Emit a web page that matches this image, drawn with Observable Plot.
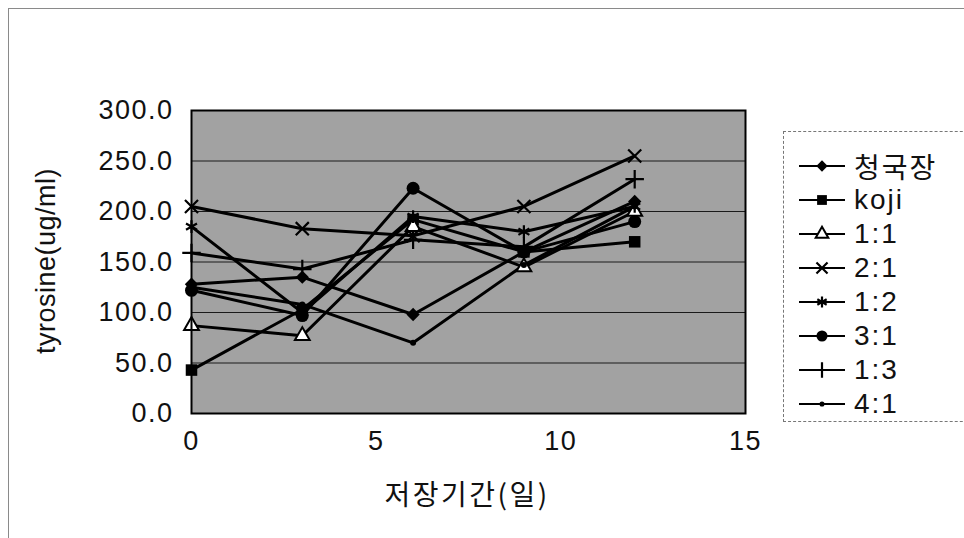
<!DOCTYPE html>
<html>
<head>
<meta charset="utf-8">
<script src="https://cdn.jsdelivr.net/npm/d3@7"></script>
<script src="https://cdn.jsdelivr.net/npm/@observablehq/plot@0.6"></script>
<style>
  html, body { margin: 0; padding: 0; background: #fff; }
  #wrap { position: relative; width: 964px; height: 538px; overflow: hidden;
          font-family: "Liberation Sans", Arial, "Noto Sans CJK KR", sans-serif; }
  #outer { position: absolute; left: 8px; top: 8px; width: 1000px; height: 600px;
           border-left: 1px solid #8a8a8a; border-top: 1px solid #8a8a8a; }
  #chart { position: absolute; left: 0; top: 0; }
  #chart svg text { letter-spacing: 1.5px; }
  .ytitle { position: absolute; left: 46px; top: 261px; transform: translate(-50%, -50%) rotate(-90deg);
            font-size: 27px; letter-spacing: 0.5px; white-space: nowrap; color: #111; }
  .xtitle { position: absolute; left: 467px; top: 493px; transform: translate(-50%, -50%);
            font-size: 28px; letter-spacing: 2.5px; white-space: nowrap; color: #111;
            font-family: "Noto Sans CJK KR", "Liberation Sans", sans-serif; }
  #legend { position: absolute; left: 783px; top: 131px; width: 200px; height: 291px;
            border: 1px dashed #777; box-sizing: border-box; padding-top: 17px; }
  .row { height: 34px; display: flex; align-items: center; padding-left: 14px; }
  .row svg { display: block; }
  .row span { margin-left: 8px; font-size: 28px; letter-spacing: 2px; color: #111;
              font-family: "Liberation Sans", "Noto Sans CJK KR", sans-serif; }
</style>
</head>
<body>
<div id="wrap">
  <div id="outer"></div>
  <div id="chart"></div>
  <div class="ytitle">tyrosine(ug/ml)</div>
  <div class="xtitle">저장기간(일)</div>
  <div id="legend"></div>
</div>
<script>
// Storage period (days) and tyrosine content (ug/ml) for each sample
const days = [0, 3, 6, 9, 12];
const seriesNames = ["청국장", "koji", "1:1", "2:1", "1:2", "3:1", "1:3", "4:1"];
const cheonggukjang = [128, 135, 98, 160, 210];
const koji          = [43, 103, 192, 160, 170];
const mix11         = [87, 77, 185, 145, 200];
const mix21         = [205, 183, 176, 205, 255];
const mix12         = [185, 100, 195, 180, 205];
const mix31         = [122, 97, 223, 160, 190];
const mix13         = [159, 143, 172, 165, 232];
const mix41         = [125, 108, 70, 147, 205];
const yTicks = [0, 50, 100, 150, 200, 250, 300];
const xTicks = [0, 5, 10, 15];

const seriesValues = [cheonggukjang, koji, mix11, mix21, mix12, mix31, mix13, mix41];

// marker style per series
const markers = [
  {symbol: "diamond2", fill: "black", stroke: "none", r: 6, sw: 0},
  {symbol: "square", fill: "black", stroke: "none", r: 6.5, sw: 0},
  {symbol: "triangle", fill: "white", stroke: "black", r: 5.5, sw: 2},
  {symbol: "times", fill: "none", stroke: "black", r: 6, sw: 2.2},
  {symbol: "asterisk", fill: "none", stroke: "black", r: 6, sw: 2.2},
  {symbol: "circle", fill: "black", stroke: "none", r: 6.5, sw: 0},
  {symbol: "plus", fill: "none", stroke: "black", r: 6, sw: 2.2},
  {symbol: "circle", fill: "black", stroke: "none", r: 3, sw: 0}
];

const rows = seriesNames.flatMap((name, i) =>
  days.map((d, j) => ({series: name, day: d, value: seriesValues[i][j]})));

const lineMarks = seriesNames.map(name =>
  Plot.line(rows.filter(r => r.series === name),
    {x: "day", y: "value", stroke: "black", strokeWidth: 3}));

const dotMarks = seriesNames.map((name, i) => {
  const m = markers[i];
  return Plot.dot(rows.filter(r => r.series === name),
    {x: "day", y: "value", symbol: () => m.symbol, r: m.r,
     fill: m.fill, stroke: m.stroke, strokeWidth: m.sw});
});

const chart = Plot.plot({
  width: 964,
  height: 538,
  marginTop: 110,
  marginBottom: 125,
  marginLeft: 191,
  marginRight: 219,
  style: {
    background: "transparent",
    fontFamily: "'Liberation Sans', Arial, sans-serif",
    fontSize: "27px",
    color: "#111",
    overflow: "visible"
  },
  x: {domain: [0, 15]},
  y: {domain: [0, 300]},
  symbol: {type: "identity"},
  marks: [
    Plot.frame({fill: "#a2a2a2", stroke: "none"}),
    Plot.ruleY(yTicks.slice(1, -1), {stroke: "#1a1a1a", strokeWidth: 1.2}),
    Plot.axisY({ticks: yTicks, tickFormat: d3.format(".1f"), tickSize: 0,
                tickPadding: 18, fontSize: 27, label: null}),
    Plot.axisX({ticks: xTicks, tickSize: 0, tickPadding: 17, fontSize: 27, label: null}),
    ...lineMarks,
    ...dotMarks,
    Plot.frame({stroke: "black", strokeWidth: 2})
  ]
});
document.getElementById("chart").appendChild(chart);

// legend
const legend = d3.select("#legend");
seriesNames.forEach((name, i) => {
  const m = markers[i];
  const row = legend.append("div").attr("class", "row");
  const svg = row.append("svg").attr("width", 48).attr("height", 20);
  svg.append("line").attr("x1", 1).attr("x2", 47).attr("y1", 10).attr("y2", 10)
    .attr("stroke", "black").attr("stroke-width", 2);
  const symType = {
    diamond2: d3.symbolDiamond2, square: d3.symbolSquare, triangle: d3.symbolTriangle,
    times: d3.symbolTimes, asterisk: d3.symbolAsterisk, circle: d3.symbolCircle, plus: d3.symbolPlus
  }[m.symbol];
  const size = Math.PI * (m.r * 0.85) ** 2;
  svg.append("path").attr("transform", "translate(24,10)")
    .attr("d", d3.symbol(symType, size)())
    .attr("fill", m.fill).attr("stroke", m.stroke).attr("stroke-width", m.sw);
  row.append("span").text(name);
});
</script>
</body>
</html>
